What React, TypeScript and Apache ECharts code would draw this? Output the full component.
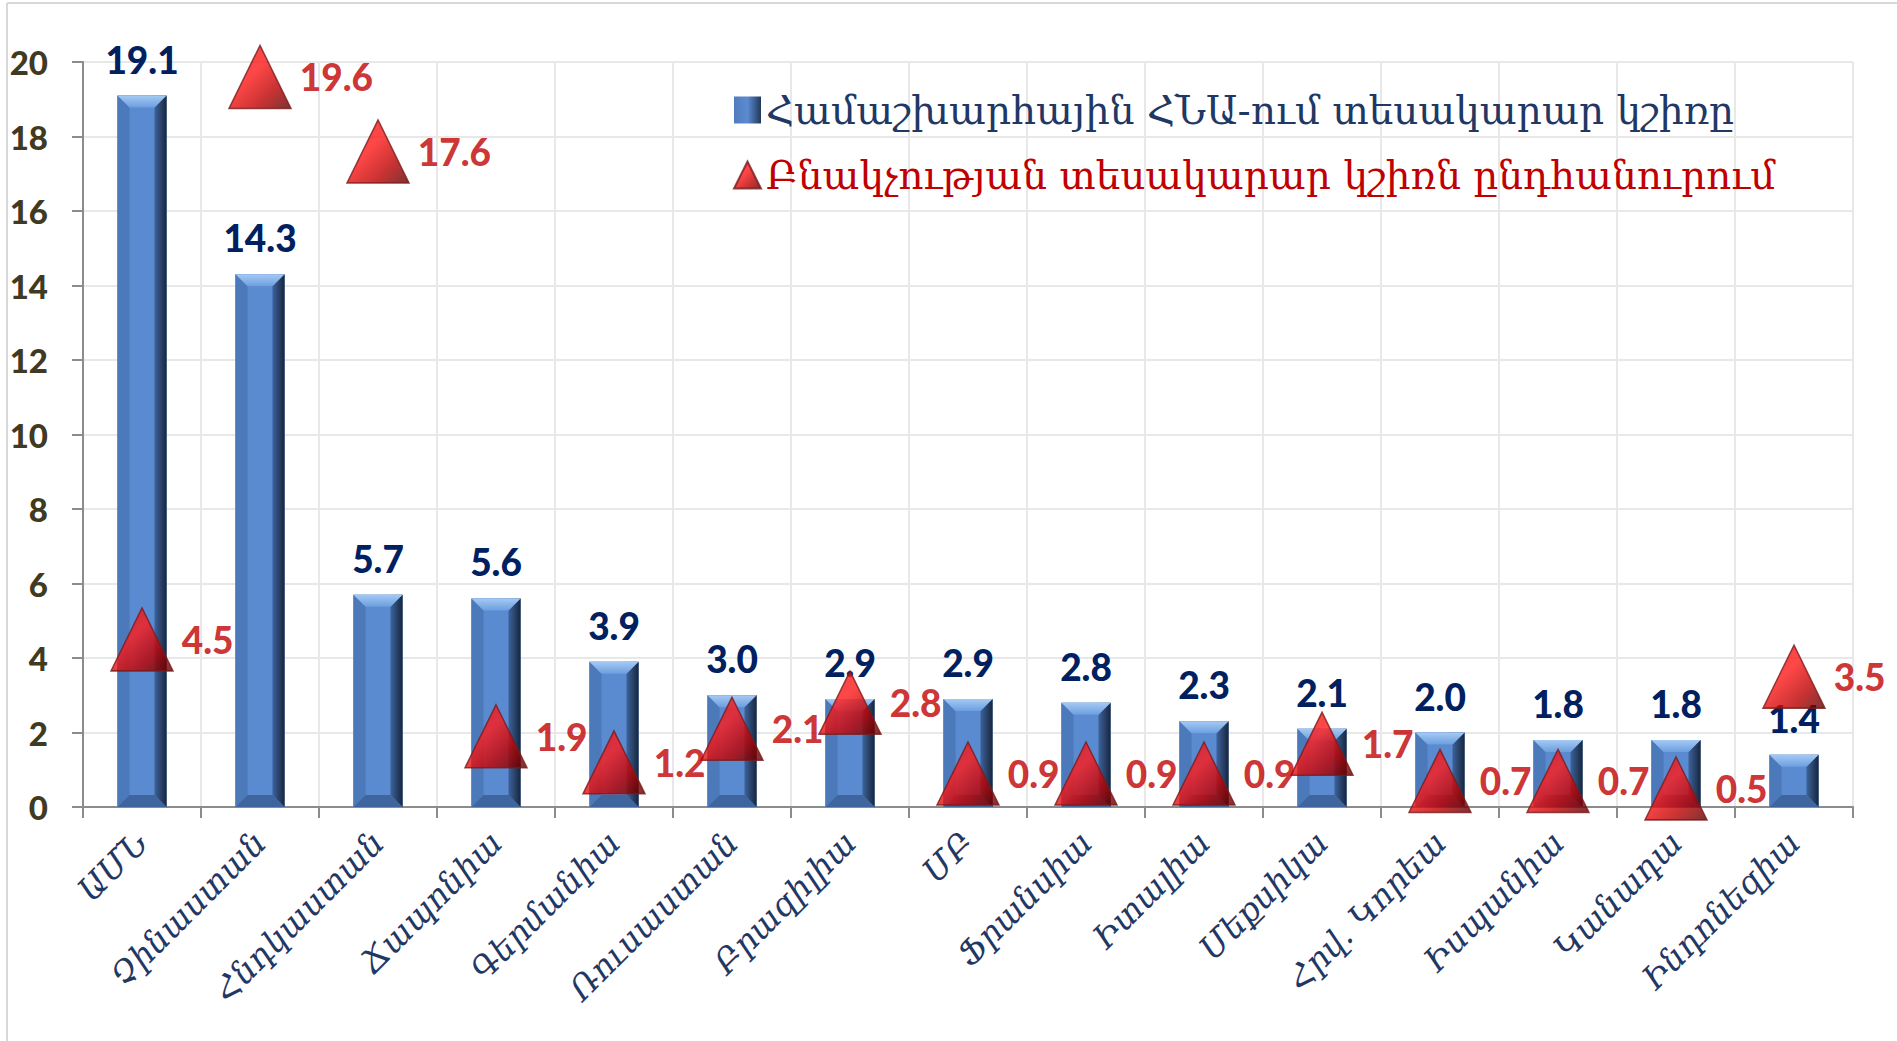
import React, { useEffect, useRef } from "react";
import * as echarts from "echarts";

const categories = [
  "ԱՄՆ",
  "Չինաստան",
  "Հնդկաստան",
  "Ճապոնիա",
  "Գերմանիա",
  "Ռուսաստան",
  "Բրազիլիա",
  "ՄԲ",
  "Ֆրանսիա",
  "Իտալիա",
  "Մեքսիկա",
  "Հրվ. Կորեա",
  "Իսպանիա",
  "Կանադա",
  "Ինդոնեզիա",
];
const gdpShare = [19.1, 14.3, 5.7, 5.6, 3.9, 3.0, 2.9, 2.9, 2.8, 2.3, 2.1, 2.0, 1.8, 1.8, 1.4];
const popShare = [4.5, 19.6, 17.6, 1.9, 1.2, 2.1, 2.8, 0.9, 0.9, 0.9, 1.7, 0.7, 0.7, 0.5, 3.5];
const yTicks = { min: 0, max: 20, interval: 2 };
const barName = "Համաշխարհային ՀՆԱ-ում տեսակարար կշիռը";
const triName = "Բնակչության տեսակարար կշիռն ընդհանուրում";

const NAVY = "#002060";
const RED = "#C00000";
const LABEL_BLUE = "#1F3864";

export default function App() {
  const ref = useRef<HTMLDivElement>(null);
  useEffect(() => {
    if (!ref.current) return;
    const chart = echarts.init(ref.current, null, { renderer: "svg" });
    const bevelData = gdpShare.map((v, i) => [i, v]);
    const option: any = {
      animation: false,
      backgroundColor: "#ffffff",
      grid: { left: 83, right: 44, top: 62, bottom: 234 },
      legend: {
        orient: "vertical",
        left: 728,
        top: 84,
        itemWidth: 27,
        itemHeight: 27,
        itemGap: 23,
        textStyle: { fontFamily: "DejaVu Serif", fontSize: 39, lineHeight: 42 },
        data: [
          { name: barName, icon: "rect", textStyle: { color: LABEL_BLUE } },
          { name: triName, icon: "triangle", textStyle: { color: RED } },
        ],
      },
      xAxis: {
        type: "category",
        data: categories,
        axisLine: { show: true, lineStyle: { color: "#8C8C8C", width: 2 } },
        axisTick: { show: true, length: 11, lineStyle: { color: "#8C8C8C", width: 2 } },
        splitLine: { show: true, lineStyle: { color: "#E8E8E8", width: 2 } },
        axisLabel: {
          interval: 0,
          rotate: 45,
          margin: 30,
          color: LABEL_BLUE,
          fontFamily: "DejaVu Serif",
          fontStyle: "italic",
          fontSize: 33,
        },
      },
      yAxis: {
        type: "value",
        min: yTicks.min,
        max: yTicks.max,
        interval: yTicks.interval,
        axisLine: { show: true, lineStyle: { color: "#8C8C8C", width: 2 } },
        axisTick: { show: true, length: 11, lineStyle: { color: "#8C8C8C", width: 2 } },
        splitLine: { show: true, lineStyle: { color: "#E8E8E8", width: 2 } },
        axisLabel: {
          margin: 35,
          color: "#403A22",
          fontFamily: "Lato",
          fontWeight: 900,
          fontSize: 33,
        },
      },
      graphic: [
        { type: "line", shape: { x1: 7, y1: 3, x2: 7, y2: 1041 }, style: { stroke: "#D9D9D9", lineWidth: 2 }, silent: true },
        { type: "line", shape: { x1: 7, y1: 3, x2: 1897, y2: 3 }, style: { stroke: "#D9D9D9", lineWidth: 2 }, silent: true },
      ],
      series: [
        {
          name: barName,
          type: "bar",
          data: gdpShare,
          barWidth: "41.5%",
          z: 2,
          itemStyle: {
            color: new echarts.graphic.LinearGradient(0, 0, 1, 0, [
              { offset: 0, color: "#4F7CBE" },
              { offset: 0.5, color: "#5B8BD0" },
              { offset: 1, color: "#22385A" },
            ]),
          },
          label: {
            show: true,
            position: "top",
            distance: 18,
            color: NAVY,
            fontFamily: "Lato",
            fontWeight: 900,
            fontSize: 37,
            formatter: (p: any) => Number(p.value).toFixed(1),
          },
        },
        {
          name: "bevel",
          type: "custom",
          z: 3,
          silent: true,
          clip: false,
          data: bevelData,
          renderItem: (params: any, api: any) => {
            const idx = api.value(0);
            const v = api.value(1);
            const top = api.coord([idx, v]);
            const bot = api.coord([idx, 0]);
            const w = api.size([1, 0])[0] * 0.415;
            const x0 = top[0] - w / 2;
            const x1 = top[0] + w / 2;
            const y0 = top[1];
            const y1 = bot[1];
            const b = Math.min(12, (y1 - y0) / 2, w / 2);
            return {
              type: "group",
              children: [
                { type: "rect", shape: { x: x0, y: y0, width: w, height: y1 - y0 }, style: { fill: "#5A8ACF" } },
                {
                  type: "polygon",
                  shape: { points: [[x0, y0], [x0 + b, y0 + b], [x0 + b, y1 - b], [x0, y1]] },
                  style: { fill: "#4C79BA" },
                },
                {
                  type: "polygon",
                  shape: { points: [[x1, y0], [x1 - b, y0 + b], [x1 - b, y1 - b], [x1, y1]] },
                  style: {
                    fill: new echarts.graphic.LinearGradient(0, 0, 1, 0, [
                      { offset: 0, color: "#3D639C" },
                      { offset: 1, color: "#18263C" },
                    ]),
                  },
                },
                {
                  type: "polygon",
                  shape: { points: [[x0, y0], [x1, y0], [x1 - b, y0 + b], [x0 + b, y0 + b]] },
                  style: {
                    fill: new echarts.graphic.LinearGradient(0, 0, 0, 1, [
                      { offset: 0, color: "#A5CAF4" },
                      { offset: 1, color: "#6C9EDF" },
                    ]),
                  },
                },
                {
                  type: "polygon",
                  shape: { points: [[x0, y1], [x1, y1], [x1 - b, y1 - b], [x0 + b, y1 - b]] },
                  style: { fill: "#3F659F" },
                },
              ],
            };
          },
        },
        {
          name: triName,
          type: "scatter",
          data: popShare,
          z: 5,
          clip: false,
          symbol: "triangle",
          symbolSize: [62, 63],
          itemStyle: {
            color: new echarts.graphic.LinearGradient(0, 0, 1, 1, [
              { offset: 0, color: "#E01010" },
              { offset: 0.4, color: "#FF1A1A" },
              { offset: 0.7, color: "#C00000" },
              { offset: 1, color: "#5A0000" },
            ]),
            borderColor: "#7A1A1A",
            borderWidth: 1.5,
          },
          label: {
            show: true,
            position: "right",
            distance: 8,
            color: RED,
            fontFamily: "Lato",
            fontWeight: 900,
            fontSize: 37,
            formatter: (p: any) => Number(p.value).toFixed(1),
          },
        },
      ],
    };
    chart.setOption(option);
    return () => chart.dispose();
  }, []);
  return (
    <div
      ref={ref}
      style={{ position: "absolute", left: 0, top: 0, width: 1897, height: 1041, background: "#fff" }}
    />
  );
}
